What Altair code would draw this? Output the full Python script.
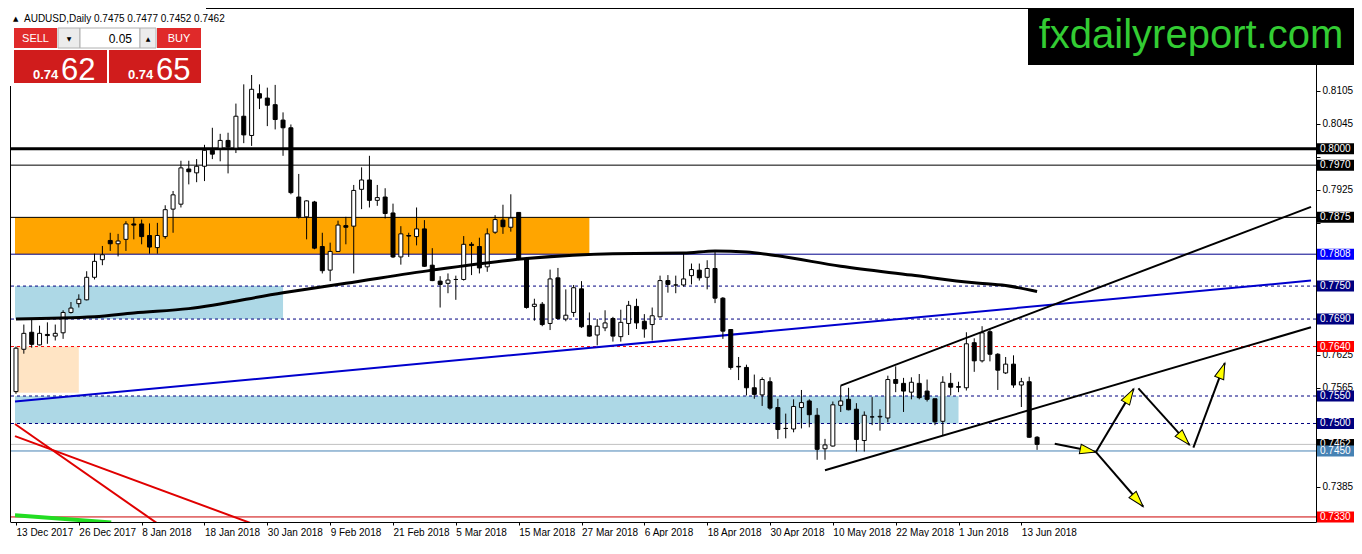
import math
import altair as alt
import pandas as pd

# ---------------- data ----------------
open_ = [0.7558, 0.7635, 0.7666, 0.7643, 0.7662, 0.7659, 0.7665, 0.7702, 0.7718, 0.7725,
         0.7766, 0.7798, 0.7833, 0.7827, 0.7835, 0.7863, 0.7863, 0.7842, 0.7820, 0.7840,
         0.7890, 0.7899, 0.7963, 0.7956, 0.7968, 0.7997, 0.8001, 0.8015, 0.8001, 0.8059,
         0.8024, 0.8100, 0.8092, 0.8080, 0.8052, 0.8038, 0.7912, 0.7876, 0.7903, 0.7822,
         0.7779, 0.7813, 0.7860, 0.7859, 0.7926, 0.7943, 0.7906, 0.7912, 0.7883, 0.7803,
         0.7842, 0.7840, 0.7854, 0.7788, 0.7759, 0.7755, 0.7762, 0.7762, 0.7826, 0.7822,
         0.7785, 0.7848, 0.7870, 0.7857, 0.7884, 0.7800, 0.7713, 0.7717, 0.7682, 0.7765,
         0.7690, 0.7702, 0.7745, 0.7678, 0.7661, 0.7674, 0.7691, 0.7658, 0.7682, 0.7713,
         0.7686, 0.7680, 0.7694, 0.7760, 0.7752, 0.7752, 0.7769, 0.7779, 0.7766, 0.7782,
         0.7728, 0.7671, 0.7604, 0.7602, 0.7565, 0.7552, 0.7576, 0.7529, 0.7491, 0.7490,
         0.7529, 0.7541, 0.7515, 0.7454, 0.7459, 0.7533, 0.7544, 0.7526, 0.7469, 0.7512,
         0.7512, 0.7510, 0.7580, 0.7573, 0.7557, 0.7573, 0.7559, 0.7545, 0.7504, 0.7573,
         0.7567, 0.7565, 0.7647, 0.7614, 0.7667, 0.7626, 0.7592, 0.7608, 0.7570, 0.7576,
         0.7475]
high = [0.7640, 0.7680, 0.7689, 0.7678, 0.7684, 0.7680, 0.7706, 0.7721, 0.7735, 0.7777,
        0.7809, 0.7823, 0.7847, 0.7845, 0.7868, 0.7874, 0.7871, 0.7864, 0.7865, 0.7897,
        0.7923, 0.7978, 0.7978, 0.7981, 0.8007, 0.8038, 0.8027, 0.8029, 0.8082, 0.8117,
        0.8134, 0.8117, 0.8111, 0.8116, 0.8066, 0.8044, 0.7954, 0.7906, 0.7905, 0.7847,
        0.7829, 0.7869, 0.7876, 0.7934, 0.7966, 0.7987, 0.7934, 0.7928, 0.7900, 0.7859,
        0.7847, 0.7893, 0.7870, 0.7819, 0.7768, 0.7773, 0.7769, 0.7841, 0.7830, 0.7838,
        0.7855, 0.7879, 0.7898, 0.7917, 0.7884, 0.7803, 0.7727, 0.7721, 0.7780, 0.7783,
        0.7744, 0.7752, 0.7759, 0.7702, 0.7690, 0.7706, 0.7694, 0.7707, 0.7723, 0.7727,
        0.7699, 0.7711, 0.7769, 0.7770, 0.7769, 0.7809, 0.7791, 0.7791, 0.7797, 0.7813,
        0.7730, 0.7671, 0.7621, 0.7607, 0.7589, 0.7584, 0.7584, 0.7545, 0.7518, 0.7544,
        0.7561, 0.7544, 0.7528, 0.7472, 0.7540, 0.7569, 0.7565, 0.7537, 0.7522, 0.7548,
        0.7526, 0.7587, 0.7604, 0.7583, 0.7584, 0.7590, 0.7580, 0.7545, 0.7586, 0.7592,
        0.7576, 0.7666, 0.7655, 0.7677, 0.7672, 0.7628, 0.7621, 0.7624, 0.7583, 0.7585,
        0.7477]
low = [0.7554, 0.7627, 0.7638, 0.7642, 0.7645, 0.7651, 0.7654, 0.7700, 0.7711, 0.7724,
       0.7762, 0.7788, 0.7814, 0.7804, 0.7814, 0.7835, 0.7826, 0.7809, 0.7809, 0.7836,
       0.7847, 0.7893, 0.7935, 0.7939, 0.7941, 0.7981, 0.7977, 0.7955, 0.7992, 0.8010,
       0.8005, 0.8072, 0.8041, 0.8035, 0.7987, 0.7917, 0.7873, 0.7835, 0.7817, 0.7773,
       0.7759, 0.7812, 0.7826, 0.7773, 0.7890, 0.7893, 0.7896, 0.7873, 0.7801, 0.7789,
       0.7803, 0.7824, 0.7785, 0.7759, 0.7711, 0.7737, 0.7725, 0.7760, 0.7770, 0.7773,
       0.7776, 0.7845, 0.7845, 0.7849, 0.7797, 0.7709, 0.7687, 0.7677, 0.7670, 0.7689,
       0.7686, 0.7694, 0.7674, 0.7658, 0.7642, 0.7668, 0.7649, 0.7649, 0.7661, 0.7672,
       0.7656, 0.7651, 0.7693, 0.7738, 0.7737, 0.7749, 0.7753, 0.7760, 0.7744, 0.7719,
       0.7654, 0.7598, 0.7579, 0.7551, 0.7545, 0.7532, 0.7525, 0.7472, 0.7473, 0.7484,
       0.7491, 0.7493, 0.7434, 0.7434, 0.7458, 0.7521, 0.7524, 0.7449, 0.7449, 0.7497,
       0.7487, 0.7502, 0.7557, 0.7521, 0.7544, 0.7544, 0.7540, 0.7497, 0.7477, 0.7551,
       0.7557, 0.7560, 0.7594, 0.7611, 0.7613, 0.7561, 0.7590, 0.7565, 0.7530, 0.7474,
       0.7452]
close = [0.7637, 0.7664, 0.7644, 0.7664, 0.7660, 0.7664, 0.7702, 0.7710, 0.7726, 0.7766,
         0.7795, 0.7807, 0.7827, 0.7832, 0.7863, 0.7861, 0.7840, 0.7821, 0.7842, 0.7889,
         0.7916, 0.7965, 0.7958, 0.7968, 0.7997, 0.7990, 0.8015, 0.8003, 0.8059, 0.8025,
         0.8108, 0.8092, 0.8079, 0.8053, 0.8038, 0.7920, 0.7876, 0.7905, 0.7819, 0.7778,
         0.7813, 0.7861, 0.7857, 0.7924, 0.7943, 0.7906, 0.7911, 0.7882, 0.7803, 0.7845,
         0.7841, 0.7854, 0.7786, 0.7760, 0.7753, 0.7761, 0.7762, 0.7826, 0.7824, 0.7783,
         0.7845, 0.7871, 0.7858, 0.7874, 0.7800, 0.7711, 0.7717, 0.7680, 0.7763, 0.7691,
         0.7697, 0.7747, 0.7676, 0.7659, 0.7677, 0.7683, 0.7659, 0.7684, 0.7715, 0.7683,
         0.7672, 0.7696, 0.7760, 0.7753, 0.7752, 0.7763, 0.7780, 0.7765, 0.7782, 0.7728,
         0.7668, 0.7602, 0.7603, 0.7565, 0.7553, 0.7580, 0.7528, 0.7489, 0.7491, 0.7531,
         0.7538, 0.7516, 0.7453, 0.7461, 0.7534, 0.7541, 0.7525, 0.7471, 0.7515, 0.7512,
         0.7513, 0.7580, 0.7573, 0.7559, 0.7575, 0.7547, 0.7544, 0.7503, 0.7575, 0.7566,
         0.7566, 0.7645, 0.7614, 0.7665, 0.7626, 0.7597, 0.7608, 0.7570, 0.7576, 0.7475,
         0.7462]

date_labels = ["13 Dec 2017", "26 Dec 2017", "8 Jan 2018", "18 Jan 2018", "30 Jan 2018",
               "9 Feb 2018", "21 Feb 2018", "5 Mar 2018", "15 Mar 2018", "27 Mar 2018",
               "6 Apr 2018", "18 Apr 2018", "30 Apr 2018", "10 May 2018", "22 May 2018",
               "1 Jun 2018", "13 Jun 2018"]
price_ticks = [0.8105, 0.8045, 0.7985, 0.7925, 0.7865, 0.7805, 0.7745, 0.7685,
               0.7625, 0.7565, 0.7505, 0.7445, 0.7385, 0.7325]
# tick labels that sit under the coloured level labels in the reference
covered_ticks = ["0.7985", "0.7865", "0.7805", "0.7745", "0.7685", "0.7505",
                 "0.7445", "0.7325"]

# moving average (thick black curve)
ma_index = [0, 10, 15, 22, 34, 42, 53, 65, 76, 85, 89, 93, 97, 105, 114, 122, 126, 130]
ma_value = [0.7690, 0.7694, 0.7701, 0.7709, 0.7738, 0.7755, 0.7779, 0.7800, 0.7809,
            0.7810, 0.7814, 0.7812, 0.7805, 0.7786, 0.7770, 0.7756, 0.7751, 0.7740]

# horizontal levels
level_price = [0.8000, 0.7970, 0.7875, 0.7808, 0.7750, 0.7690, 0.7640, 0.7550,
               0.7500, 0.7462, 0.7450, 0.7330]

# shaded zones (bar index start/end, price top/bottom)
zone_start = [-0.125, -0.125, -0.125, -0.125]
zone_end = [73, 34, 8, 120]
zone_top = [0.7875, 0.7750, 0.7640, 0.7550]
zone_bottom = [0.7808, 0.7690, 0.7556, 0.7500]

# trend lines: (index1, price1) -> (index2, price2)
trend_x1 = [-0.125, 105, 103]
trend_y1 = [0.7540, 0.7569, 0.7415]
trend_x2 = [164.875, 164.875, 164.875]
trend_y2 = [0.7760, 0.7894, 0.7675]
red_x1 = [-0.125, -0.125]
red_y1 = [0.7499, 0.7477]
red_x2 = [19.625, 32.125]
red_y2 = [0.7302, 0.7307]
green_x = [-0.125, 12.125]
green_y = [0.7333, 0.7320]

# scenario arrows
arrow_x1 = [132.25, 137.5, 137.5, 142.9, 149.9]
arrow_y1 = [0.7463, 0.7448, 0.7448, 0.7564, 0.7456]
arrow_x2 = [137.5, 142.3, 143.5, 149.4, 153.9]
arrow_y2 = [0.7448, 0.7563, 0.7349, 0.7461, 0.7610]

# ---------------- chart ----------------
W, H = 1306, 514
X_DOM = [-0.125, 164.875]
Y_DOM = [0.73208, 0.82559]
FONT = "Liberation Sans"

labels_js = "[" + ",".join("'" + s + "'" for s in date_labels) + "]"
covered_js = "[" + ",".join("'" + s + "'" for s in covered_ticks) + "]"
x_axis = alt.Axis(values=list(range(0, 129, 8)),
                  labelExpr=f"{labels_js}[round(datum.value/8)]",
                  labelAlign="left", labelPadding=2, tickSize=3, title=None,
                  grid=False, labelOverlap=False, labelFlush=False, labelBound=False,
                  domainColor="black", tickColor="black", labelColor="black",
                  labelFont=FONT, labelFontSize=10)
y_axis = alt.Axis(orient="right", values=price_ticks, tickSize=4,
                  labelExpr=(f"indexof({covered_js}, format(datum.value, '.4f')) >= 0"
                             " ? '' : format(datum.value, '.4f')"),
                  labelPadding=2, title=None, grid=False, labelOverlap=False,
                  labelFlush=False, domainColor="black", tickColor="black",
                  labelColor="black", labelFont=FONT, labelFontSize=10)


def X(f):
    return alt.X(f"{f}:Q", scale=alt.Scale(domain=X_DOM, nice=False, zero=False),
                 axis=x_axis)


def Y(f):
    return alt.Y(f"{f}:Q", scale=alt.Scale(domain=Y_DOM, nice=False, zero=False),
                 axis=y_axis)


one = pd.DataFrame({"a": [0]})
layers = []

# zones
zone_colors = ["#FFA500", "#ADD8E6", "#FFE4C4", "#ADD8E6"]
zones = pd.DataFrame({"x0": zone_start, "x1": zone_end, "top": zone_top,
                      "bot": zone_bottom, "col": zone_colors})
layers.append(alt.Chart(zones).mark_rect(clip=True).encode(
    x=X("x0"), x2="x1", y=Y("top"), y2="bot", fill=alt.Fill("col:N", scale=None)))

# level lines
level_style = {
    0.8000: ("black", 3, None, "black"),
    0.7970: ("black", 1, None, "black"),
    0.7875: ("black", 1, None, "black"),
    0.7808: ("#00008b", 1, None, "#0000ff"),
    0.7750: ("#000080", 1, [3, 3], "#000080"),
    0.7690: ("#000080", 1, [3, 3], "#000080"),
    0.7640: ("#ff0000", 1, [3, 3], "#ff0000"),
    0.7550: ("#000080", 1, [3, 3], "#000080"),
    0.7500: ("#000080", 1, [3, 3], "#000080"),
    0.7462: ("#c0c0c0", 1, None, "black"),
    0.7450: ("#4682b4", 1, None, "#4682b4"),
    0.7330: ("#cc0000", 1, None, "#ff0000"),
}
for p in level_price:
    col, sw, dash, _ = level_style[p]
    kw = dict(color=col, strokeWidth=sw)
    if dash:
        kw["strokeDash"] = dash
    layers.append(alt.Chart(pd.DataFrame({"p": [p]})).mark_rule(**kw).encode(y=Y("p")))

# blue trend line
layers.append(alt.Chart(pd.DataFrame({"x1": trend_x1[:1], "y1": trend_y1[:1],
                                      "x2": trend_x2[:1], "y2": trend_y2[:1]}))
              .mark_rule(color="#0000cd", strokeWidth=2, clip=True)
              .encode(x=X("x1"), y=Y("y1"), x2="x2", y2="y2"))

# candles
candles = pd.DataFrame({"i": list(range(len(close))), "o": open_, "h": high,
                        "l": low, "c": close})
layers.append(alt.Chart(candles).mark_rule(color="black", strokeWidth=1, clip=True)
              .encode(x=X("i"), y=Y("l"), y2="h"))
layers.append(alt.Chart(candles).mark_bar(size=4, stroke="black", strokeWidth=1, clip=True)
              .encode(x=X("i"), y=Y("o"), y2="c",
                      fill=alt.condition("datum.c > datum.o", alt.value("white"),
                                         alt.value("black"))))

# moving average
layers.append(alt.Chart(pd.DataFrame({"i": ma_index, "v": ma_value}))
              .mark_line(color="black", strokeWidth=3, interpolate="monotone")
              .encode(x=X("i"), y=Y("v")))

# channel lines
layers.append(alt.Chart(pd.DataFrame({"x1": trend_x1[1:], "y1": trend_y1[1:],
                                      "x2": trend_x2[1:], "y2": trend_y2[1:]}))
              .mark_rule(color="black", strokeWidth=2, clip=True)
              .encode(x=X("x1"), y=Y("y1"), x2="x2", y2="y2"))
# red lines
layers.append(alt.Chart(pd.DataFrame({"x1": red_x1, "y1": red_y1, "x2": red_x2, "y2": red_y2}))
              .mark_rule(color="#e00000", strokeWidth=2, clip=True)
              .encode(x=X("x1"), y=Y("y1"), x2="x2", y2="y2"))
# green line
layers.append(alt.Chart(pd.DataFrame({"i": green_x, "v": green_y}))
              .mark_line(color="#22dd22", strokeWidth=4, clip=True)
              .encode(x=X("i"), y=Y("v")))

# arrows
pxb = W / (X_DOM[1] - X_DOM[0])
pxp = H / (Y_DOM[1] - Y_DOM[0])
angles = []
for a, b, c, d in zip(arrow_x1, arrow_y1, arrow_x2, arrow_y2):
    dx = (c - a) * pxb
    dy = -(d - b) * pxp
    angles.append(math.degrees(math.atan2(dx, -dy)) % 360)
arrows = pd.DataFrame({"x1": arrow_x1, "y1": arrow_y1, "x2": arrow_x2, "y2": arrow_y2,
                       "ang": angles})
layers.append(alt.Chart(arrows).mark_rule(color="black", strokeWidth=2)
              .encode(x=X("x1"), y=Y("y1"), x2="x2", y2="y2"))
layers.append(alt.Chart(arrows).mark_point(shape="M0,0L0.6,2L-0.6,2Z", size=256, filled=True,
                                           fill="#ffff00", stroke="black", strokeWidth=1,
                                           opacity=1)
              .encode(x=X("x2"), y=Y("y2"), angle=alt.Angle("ang:Q", scale=None)))

# price label boxes on the right axis
for p in level_price:
    _, _, _, bg = level_style[p]
    d = pd.DataFrame({"p": [p], "top": [p + 0.001], "bot": [p - 0.001], "t": [f"{p:.4f}"]})
    layers.append(alt.Chart(d).mark_rect(fill=bg).encode(
        x=alt.value(W + 1), x2=alt.value(W + 38), y=Y("top"), y2="bot"))
    layers.append(alt.Chart(d).mark_text(color="white", align="left", baseline="middle",
                                         font=FONT, fontSize=10)
                  .encode(x=alt.value(W + 4), y=Y("p"), text="t:N"))


# ---------------- decorations (terminal panel, frame, watermark) ----------------
def px_rect(x0, y0, x1, y1, fill, stroke=None):
    kw = dict(fill=fill)
    if stroke:
        kw.update(stroke=stroke, strokeWidth=1)
    return alt.Chart(one).mark_rect(**kw).encode(
        x=alt.value(x0), x2=alt.value(x1), y=alt.value(y0), y2=alt.value(y1))


def px_text(x, y, s, size, color, align="left", weight="normal", font=FONT):
    return alt.Chart(one).mark_text(text=s, fontSize=size, color=color, align=align,
                                    baseline="alphabetic", fontWeight=weight, font=font
                                    ).encode(x=alt.value(x), y=alt.value(y))


# frame
layers.append(alt.Chart(one).mark_rule(color="black", strokeWidth=1).encode(
    x=alt.value(0.5), y=alt.value(78), y2=alt.value(H)))
layers.append(alt.Chart(one).mark_rule(color="black", strokeWidth=1).encode(
    x=alt.value(196), x2=alt.value(W), y=alt.value(0.5)))

layers.append(px_text(3, 13, "▲", 7, "black", font="DejaVu Sans"))
layers.append(px_text(14, 14, "AUDUSD,Daily  0.7475 0.7477 0.7452 0.7462", 10, "black"))
layers.append(px_rect(4, 20, 47, 40, "#e02a2a"))
layers.append(px_text(25.5, 34, "SELL", 11, "white", align="center"))
layers.append(px_rect(48, 20, 70, 40, "#ececec", "#b0b0b0"))
layers.append(px_text(59, 33, "▼", 6, "black", align="center", font="DejaVu Sans"))
layers.append(px_rect(70, 20, 130, 40, "white", "#b0b0b0"))
layers.append(px_text(122, 35, "0.05", 12, "black", align="right"))
layers.append(px_rect(130, 20, 146, 40, "#ececec", "#b0b0b0"))
layers.append(px_text(138, 33, "▲", 6, "black", align="center", font="DejaVu Sans"))
layers.append(px_rect(147, 20, 191, 40, "#e02a2a"))
layers.append(px_text(169, 34, "BUY", 11, "white", align="center"))
layers.append(px_rect(4, 42, 97, 75, "#d01c1c"))
layers.append(px_rect(99, 42, 191, 75, "#d01c1c"))
layers.append(px_text(23, 71, "0.74", 13, "white", weight="bold"))
layers.append(px_text(51, 72, "62", 31, "white"))
layers.append(px_text(118, 71, "0.74", 13, "white", weight="bold"))
layers.append(px_text(146, 72, "65", 31, "white"))

layers.append(px_rect(1018, 0, 1344, 57, "black"))
layers.append(px_text(1181, 40, "fxdailyreport.com", 40, "#33cc33", align="center"))

chart = (alt.layer(*layers)
         .properties(width=W, height=H, padding=0, background="white")
         .configure_view(stroke=None))

chart.save("out.html", embed_options={"renderer": "svg", "actions": False})
